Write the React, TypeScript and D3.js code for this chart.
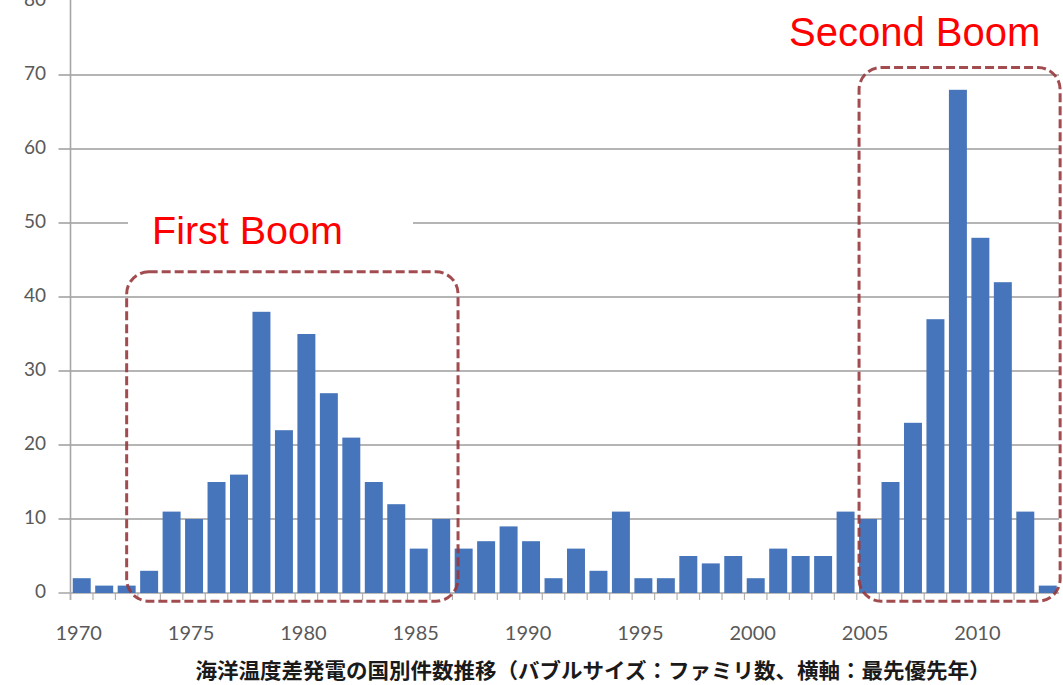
import React from "react";
import * as d3 from "d3";

// Priority years and OTEC patent family counts per year
const years = [
  "1970", "1971", "1972", "1973", "1974", "1975", "1976", "1977", "1978", "1979",
  "1980", "1981", "1982", "1983", "1984", "1985", "1986", "1987", "1988", "1989",
  "1990", "1991", "1992", "1993", "1994", "1995", "1996", "1997", "1998", "1999",
  "2000", "2001", "2002", "2003", "2004", "2005", "2006", "2007", "2008", "2009",
  "2010", "2011", "2012", "2013",
];
const counts = [
  2, 1, 1, 3, 11, 10, 15, 16, 38, 22,
  35, 27, 21, 15, 12, 6, 10, 6, 7, 9,
  7, 2, 6, 3, 11, 2, 2, 5, 4, 5,
  2, 6, 5, 5, 11, 10, 15, 23, 37, 68,
  48, 42, 11, 1,
];
const yTicks = [0, 10, 20, 30, 40, 50, 60, 70, 80];
const xTickLabels = ["1970", "1975", "1980", "1985", "1990", "1995", "2000", "2005", "2010"];
const caption = "海洋温度差発電の国別件数推移（バブルサイズ：ファミリ数、横軸：最先優先年）";

// Highlighted periods, given in year offsets from 1970 and count values
const boomLabels = ["First Boom", "Second Boom"];
const boomStart = [2.5, 35.1];
const boomEnd = [17.25, 44.05];
const boomTop = [43.4, 71];

const W = 1063;
const H = 685;
const left = 70.5;
const right = 1059;
const y0 = 593;
const yTopPx = 1;

export default function App() {
  const x = d3.scaleBand<string>().domain(years).range([left, right]).paddingInner(0.2).paddingOuter(0.1);
  const xOff = d3.scaleLinear().domain([0, years.length]).range([left, right]);
  const y = d3.scaleLinear().domain([0, 80]).range([y0, yTopPx]);
  const bw = x.bandwidth();
  const step = x.step();
  const tickFont = "Lato, 'Open Sans', sans-serif";
  const boxColor = "#98393d";

  const boxPath = (i: number) => {
    const x0 = xOff(boomStart[i]);
    const x1 = xOff(boomEnd[i]);
    const t = y(boomTop[i]);
    const b = y(-1.1);
    const r = 22;
    const p = d3.path();
    p.moveTo(x0 + r, t);
    p.lineTo(x1 - r, t);
    p.arcTo(x1, t, x1, t + r, r);
    p.lineTo(x1, b - r);
    p.arcTo(x1, b, x1 - r, b, r);
    p.lineTo(x0 + r, b);
    p.arcTo(x0, b, x0, b - r, r);
    p.lineTo(x0, t + r);
    p.arcTo(x0, t, x0 + r, t, r);
    p.closePath();
    return p.toString();
  };

  return (
    <svg
      width={W}
      height={H}
      style={{ position: "absolute", left: 0, top: 0, background: "#fff" }}
    >
      <rect x={0} y={0} width={W} height={H} fill="#fff" />

      {/* gridlines */}
      {yTicks.filter((v) => v > 0 && v < 80).map((v) => (
        <line key={"g" + v} x1={left - 12} x2={right} y1={y(v)} y2={y(v)} stroke="#9c9c9c" strokeWidth={1.6} />
      ))}

      {/* y axis */}
      <line x1={left} x2={left} y1={0} y2={y0 + 7} stroke="#a6a6a6" strokeWidth={1.6} />
      <line x1={left - 12} x2={right} y1={y0} y2={y0} stroke="#a6a6a6" strokeWidth={1.6} />
      {yTicks.map((v) => (
        <text
          key={"yl" + v}
          x={46}
          y={y(v)}
          textAnchor="end"
          dominantBaseline="middle"
          fontFamily={tickFont}
          fontSize={19}
          fill="#595959"
        >
          {v}
        </text>
      ))}

      {/* x ticks between categories */}
      {years.map((yr, i) => (
        <line
          key={"xt" + yr}
          x1={left + i * step}
          x2={left + i * step}
          y1={y0}
          y2={y0 + 7}
          stroke="#b0b0b0"
          strokeWidth={1.2}
        />
      ))}
      {xTickLabels.map((lab) => (
        <text
          key={"xl" + lab}
          x={(x(lab) ?? 0) + bw / 2 - 3}
          y={640}
          textAnchor="middle"
          fontFamily={tickFont}
          fontSize={20}
          fill="#595959"
        >
          {lab}
        </text>
      ))}

      {/* bars */}
      {years.map((yr, i) => (
        <rect
          key={"b" + yr}
          x={x(yr)}
          y={y(counts[i])}
          width={bw}
          height={y0 - y(counts[i])}
          fill="#4675bb"
        />
      ))}

      {/* period boxes */}
      {boomLabels.map((lab, i) => (
        <path
          key={"box" + lab}
          d={boxPath(i)}
          fill="none"
          stroke={boxColor}
          strokeWidth={3}
          strokeDasharray="9 4"
          opacity={0.9}
        />
      ))}

      {/* First Boom label on a white panel */}
      <rect x={128} y={205} width={285} height={58} fill="#fff" />
      <text x={152} y={244} fontFamily="'Liberation Sans', Arial, sans-serif" fontSize={39.5} fill="#ff0000">
        {boomLabels[0]}
      </text>
      <text x={789} y={46} fontFamily="'Liberation Sans', Arial, sans-serif" fontSize={40} fill="#ff0000">
        {boomLabels[1]}
      </text>

      {/* caption */}
      <text
        x={593}
        y={678}
        textAnchor="middle"
        fontFamily="'Noto Sans CJK JP', sans-serif"
        fontWeight={700}
        fontSize={21}
        fill="#1a1a1a"
        textLength={795}
        lengthAdjust="spacingAndGlyphs"
      >
        {caption}
      </text>
    </svg>
  );
}
